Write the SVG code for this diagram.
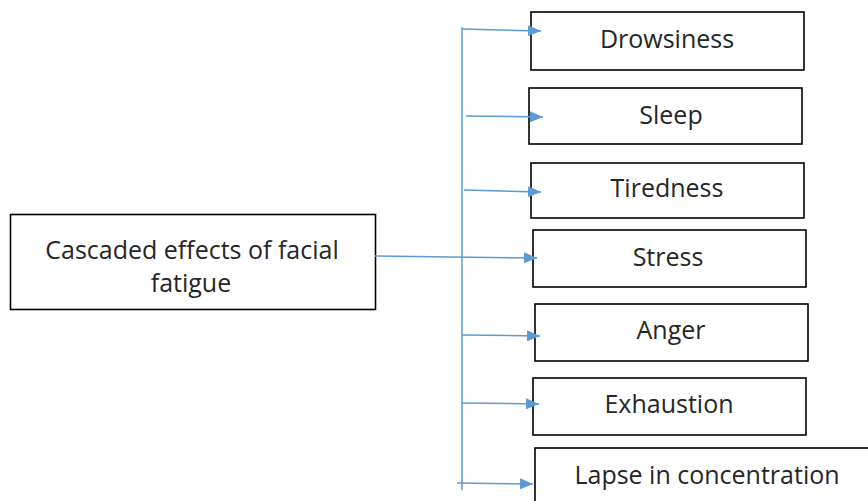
<svg xmlns="http://www.w3.org/2000/svg" width="868" height="501" viewBox="0 0 868 501">
<defs>
<style>
.box{fill:#fff;stroke:#000;stroke-width:1.6}
.lbl{font-family:"Open Sans","Liberation Sans",sans-serif;font-size:25px;fill:#262626;text-anchor:middle}
.conn{stroke:#5B9BD5;stroke-width:1.5;fill:none}
</style>
<marker id="ah" viewBox="0 0 10 10" refX="10" refY="5" markerWidth="13" markerHeight="11" markerUnits="userSpaceOnUse" orient="auto" preserveAspectRatio="none">
<path d="M0,0 L10,5 L0,10 z" fill="#5B9BD5"/>
</marker>
</defs>
<rect width="868" height="501" fill="#fff"/>
<g id="main"><rect class="box" x="10.5" y="214.5" width="365" height="95"/><text class="lbl" x="192" y="259" font-size="24">Cascaded effects of facial</text><text class="lbl" x="191" y="292" font-size="24">fatigue</text></g>
<g id="drowsiness"><rect class="box" x="531" y="12" width="273" height="58"/><text class="lbl" x="667" y="48">Drowsiness</text></g>
<g id="sleep"><rect class="box" x="529" y="88" width="273" height="56"/><text class="lbl" x="671" y="124">Sleep</text></g>
<g id="tiredness"><rect class="box" x="531" y="163" width="273" height="55"/><text class="lbl" x="667" y="197">Tiredness</text></g>
<g id="stress"><rect class="box" x="533" y="230" width="273" height="57"/><text class="lbl" x="668" y="266">Stress</text></g>
<g id="anger"><rect class="box" x="535" y="304" width="273" height="57"/><text class="lbl" x="671" y="339">Anger</text></g>
<g id="exhaustion"><rect class="box" x="533" y="378" width="273" height="57"/><text class="lbl" x="669" y="413">Exhaustion</text></g>
<g id="lapse"><rect class="box" x="535" y="448" width="345" height="70"/><text class="lbl" x="707" y="484">Lapse in concentration</text></g>
<g id="connectors">
<line class="conn" x1="462" y1="27" x2="462" y2="490"/>
<line class="conn" x1="462" y1="29" x2="541" y2="31" marker-end="url(#ah)"/>
<line class="conn" x1="466" y1="116" x2="543" y2="117" marker-end="url(#ah)"/>
<line class="conn" x1="464" y1="190" x2="541" y2="192" marker-end="url(#ah)"/>
<line class="conn" x1="375" y1="256" x2="537" y2="258" marker-end="url(#ah)"/>
<line class="conn" x1="462" y1="335" x2="540" y2="336" marker-end="url(#ah)"/>
<line class="conn" x1="462" y1="403" x2="539" y2="404" marker-end="url(#ah)"/>
<line class="conn" x1="457" y1="483" x2="533" y2="484" marker-end="url(#ah)"/>
</g>
</svg>
